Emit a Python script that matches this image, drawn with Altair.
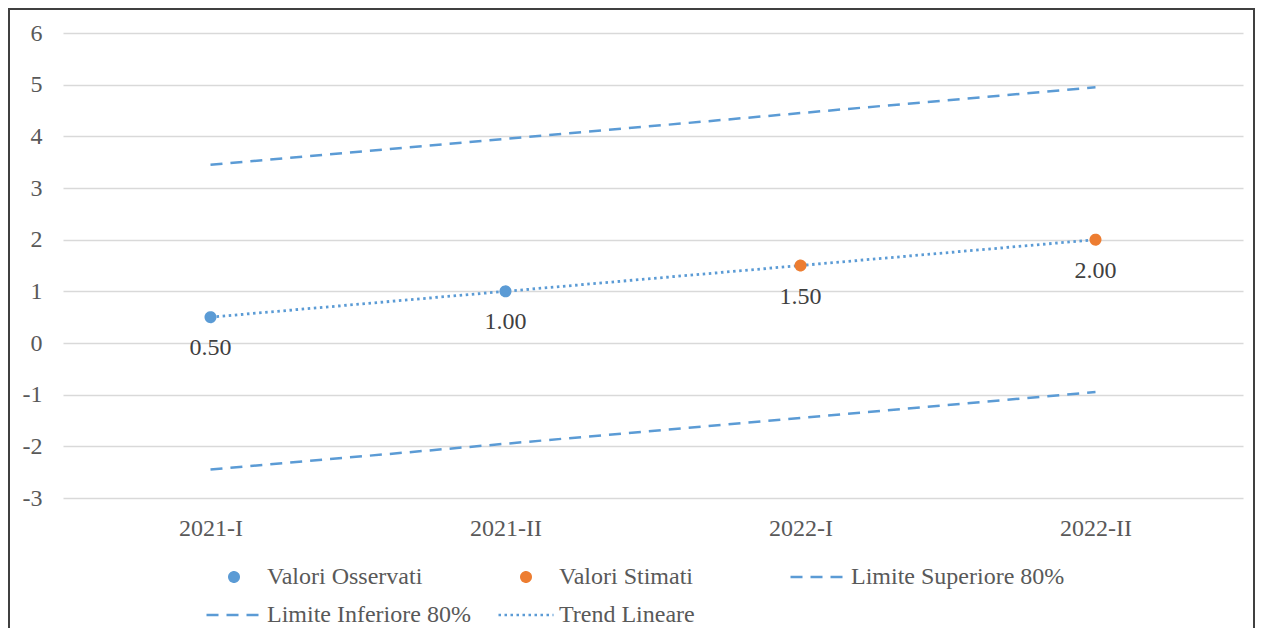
import altair as alt
import pandas as pd

categories = ["2021-I", "2021-II", "2022-I", "2022-II"]
observed = [0.50, 1.00, None, None]
estimated = [None, None, 1.50, 2.00]
upper = [3.45, 3.95, 4.45, 4.95]
lower = [-2.45, -1.95, -1.45, -0.95]
trend = [0.50, 1.00, 1.50, 2.00]
y_ticks = [-3, -2, -1, 0, 1, 2, 3, 4, 5, 6]

series_names = ["Valori Osservati", "Valori Stimati", "Limite Superiore 80%",
                "Limite Inferiore 80%", "Trend Lineare"]
series_colors = ["#5B9BD5", "#ED7D31", "#5B9BD5", "#5B9BD5", "#5B9BD5"]
series_shapes = ["circle", "circle", "stroke", "stroke", "stroke"]
series_sizes = [90, 90, 3025, 3025, 3025]
series_dashes = [[1, 0], [1, 0], [12, 8], [12, 8], [2.5, 3.5]]

BLUE = "#5B9BD5"
FONT = "Liberation Serif"
TXT = "#595959"
FS = 24

# tables
pts_rows = []
for c, v in zip(categories, observed):
    if v is not None:
        pts_rows.append({"cat": c, "val": v, "series": series_names[0]})
for c, v in zip(categories, estimated):
    if v is not None:
        pts_rows.append({"cat": c, "val": v, "series": series_names[1]})
pts_df = pd.DataFrame(pts_rows)

lim_rows = []
for c, v in zip(categories, upper):
    lim_rows.append({"cat": c, "val": v, "series": series_names[2]})
for c, v in zip(categories, lower):
    lim_rows.append({"cat": c, "val": v, "series": series_names[3]})
lim_df = pd.DataFrame(lim_rows)

trend_df = pd.DataFrame({"cat": categories, "val": trend})
frame_df = pd.DataFrame({"a": [0]})

xscale = alt.Scale(type="point", domain=categories, padding=0.5)
yscale = alt.Scale(domain=[-3, 6], nice=False, zero=False)

xaxis = alt.Axis(title=None, labelAngle=0, domain=False, ticks=False, grid=False,
                 labelFont=FONT, labelFontSize=FS, labelColor=TXT, labelPadding=18)
yaxis = alt.Axis(title=None, values=y_ticks, domain=False, ticks=False, grid=True,
                 gridColor="#d9d9d9", gridWidth=1.5, labelFont=FONT, labelFontSize=FS,
                 labelColor=TXT, labelPadding=21, labelExpr="datum.value + ''")

X = alt.X("cat:N", scale=xscale, axis=xaxis, sort=categories)
Y = alt.Y("val:Q", scale=yscale, axis=yaxis)

legend = alt.Legend(
    title=None, orient="none", legendX=142, legendY=532, direction="horizontal",
    columns=3, gridAlign="all", columnPadding=16, rowPadding=14, clipHeight=24,
    labelFont=FONT, labelFontSize=FS, labelColor=TXT, labelOffset=4, labelLimit=500,
    symbolStrokeWidth=2.5, padding=0,
)

limits = alt.Chart(lim_df).mark_line(strokeWidth=2.5, strokeDash=[12, 8], color=BLUE).encode(
    x=X, y=Y, detail="series:N"
)

trend_line = alt.Chart(trend_df).mark_line(strokeWidth=2.8, strokeDash=[2.5, 3.6], color=BLUE).encode(
    x=X, y=Y
)

points = alt.Chart(pts_df).mark_point(filled=True, opacity=1, strokeWidth=2.5).encode(
    x=X, y=Y,
    color=alt.Color("series:N", scale=alt.Scale(domain=series_names, range=series_colors), legend=legend),
    stroke=alt.Stroke("series:N", scale=alt.Scale(domain=series_names, range=series_colors), legend=legend),
    shape=alt.Shape("series:N", scale=alt.Scale(domain=series_names, range=series_shapes), legend=legend),
    size=alt.Size("series:N", scale=alt.Scale(type="ordinal", domain=series_names, range=series_sizes), legend=legend),
    strokeDash=alt.StrokeDash("series:N", scale=alt.Scale(domain=series_names, range=series_dashes), legend=legend),
)

labels = alt.Chart(pts_df).mark_text(dy=31, font=FONT, fontSize=FS, color="#404040").encode(
    x=X, y=Y, text=alt.Text("val:Q", format=".2f")
)

frame = alt.Chart(frame_df).mark_rect(fill="transparent", stroke="#404040", strokeWidth=2).encode(
    x=alt.value(-54), x2=alt.value(1191), y=alt.value(-24), y2=alt.value(700)
)

chart = alt.layer(limits, trend_line, points, labels, frame).properties(
    width=1180, height=465,
    padding={"left": 55, "top": 25, "right": 13, "bottom": 130},
    autosize=alt.AutoSizeParams(type="none"),
    background="white",
).configure_view(strokeWidth=0)

chart.save("out.html", embed_options={"renderer": "svg", "actions": False})
